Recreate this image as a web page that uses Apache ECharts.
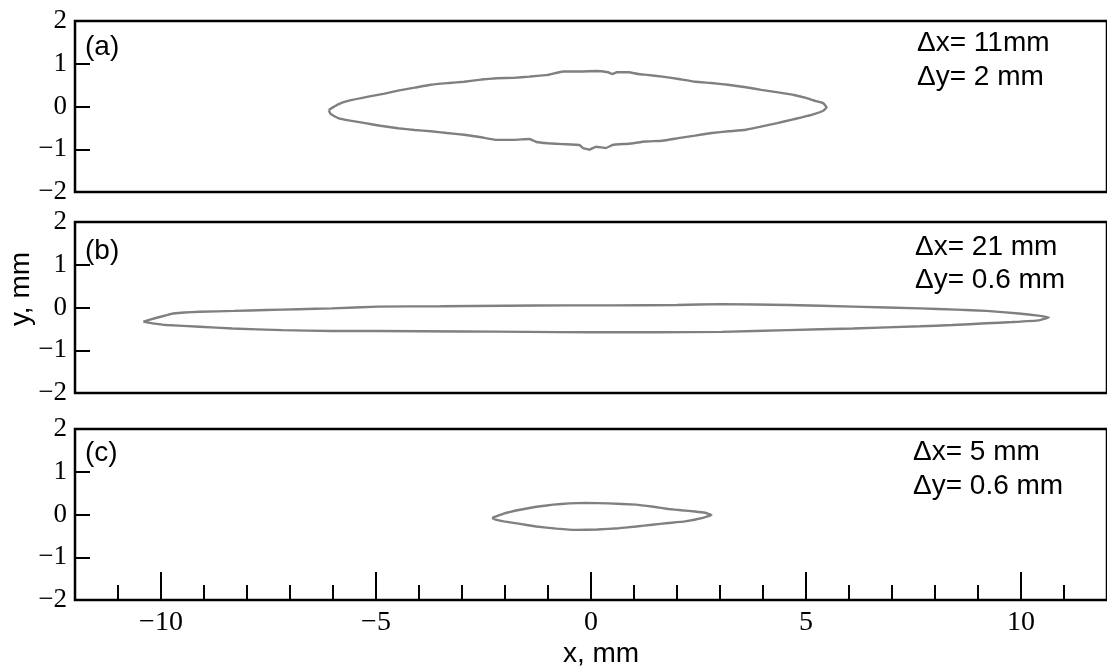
<!DOCTYPE html>
<html>
<head>
<meta charset="utf-8">
<script src="https://cdn.jsdelivr.net/npm/echarts@6/dist/echarts.min.js"></script>
<style>html,body{margin:0;padding:0;background:#fff;}#c{width:1107px;height:669px;}</style>
</head>
<body>
<div id="c"></div>
<script>
// ---- data ----
const shapeA = [[-6.10,-0.08],[-5.88,0.05],[-5.65,0.13],[-5.18,0.23],[-4.80,0.30],[-4.49,0.37],[-4.10,0.44],[-3.73,0.51],[-3.30,0.55],[-2.95,0.58],[-2.55,0.63],[-2.19,0.66],[-1.80,0.67],[-1.43,0.70],[-1.00,0.74],[-0.65,0.82],[-0.20,0.82],[0.12,0.83],[0.40,0.80],[0.50,0.76],[0.60,0.80],[0.88,0.80],[1.10,0.76],[1.30,0.74],[1.66,0.70],[2.00,0.65],[2.42,0.58],[2.80,0.55],[3.18,0.51],[3.60,0.45],[3.96,0.39],[4.35,0.33],[4.72,0.27],[5.00,0.20],[5.18,0.14],[5.40,0.08],[5.48,-0.02],[5.40,-0.10],[5.11,-0.20],[4.70,-0.30],[4.33,-0.39],[3.95,-0.47],[3.57,-0.55],[3.20,-0.58],[2.81,-0.62],[2.42,-0.68],[2.03,-0.74],[1.66,-0.80],[1.27,-0.82],[0.88,-0.87],[0.50,-0.90],[0.35,-0.97],[0.12,-0.94],[-0.04,-1.01],[-0.19,-0.97],[-0.27,-0.90],[-0.65,-0.88],[-1.00,-0.86],[-1.27,-0.83],[-1.43,-0.76],[-1.80,-0.78],[-2.19,-0.78],[-2.55,-0.72],[-2.95,-0.66],[-3.35,-0.62],[-3.73,-0.58],[-4.10,-0.55],[-4.49,-0.51],[-4.90,-0.45],[-5.25,-0.39],[-5.60,-0.33],[-5.88,-0.27],[-6.05,-0.18],[-6.10,-0.08]];
const shapeB = [[-10.41,-0.33],[-10.10,-0.24],[-9.87,-0.18],[-9.72,-0.14],[-9.10,-0.10],[-8.30,-0.08],[-7.56,-0.06],[-6.80,-0.04],[-6.03,-0.02],[-4.95,0.02],[-3.50,0.03],[-2.00,0.04],[-0.50,0.05],[0.50,0.05],[2.00,0.06],[3.04,0.08],[4.58,0.06],[6.10,0.02],[7.65,-0.02],[8.50,-0.05],[9.19,-0.08],[9.95,-0.14],[10.40,-0.19],[10.65,-0.23],[10.42,-0.30],[9.80,-0.34],[9.19,-0.37],[8.40,-0.41],[7.65,-0.44],[6.10,-0.49],[4.58,-0.53],[3.04,-0.57],[1.50,-0.58],[0.00,-0.58],[-1.50,-0.57],[-3.00,-0.56],[-4.95,-0.55],[-6.03,-0.55],[-7.18,-0.53],[-8.34,-0.49],[-9.10,-0.45],[-9.87,-0.41],[-10.20,-0.37],[-10.41,-0.33]];
const shapeC = [[-2.30,-0.08],[-2.03,0.02],[-1.65,0.11],[-1.27,0.18],[-0.88,0.23],[-0.50,0.26],[-0.12,0.27],[0.40,0.26],[1.04,0.23],[1.45,0.18],[1.80,0.13],[2.10,0.10],[2.42,0.07],[2.65,0.04],[2.80,-0.01],[2.60,-0.08],[2.19,-0.16],[1.80,-0.20],[1.42,-0.24],[1.05,-0.28],[0.65,-0.32],[0.15,-0.35],[-0.35,-0.36],[-0.80,-0.33],[-1.27,-0.28],[-1.65,-0.22],[-2.03,-0.16],[-2.22,-0.12],[-2.30,-0.08]];
const panelLabels = ['(a)', '(b)', '(c)'];
const dxTexts = ['\u0394x= 11mm', '\u0394x= 21 mm', '\u0394x= 5 mm'];
const dyTexts = ['\u0394y= 2 mm', '\u0394y= 0.6 mm', '\u0394y= 0.6 mm'];
const xMajorTicks = [-10, -5, 0, 5, 10];
const xMinorTicks = [-11, -9, -8, -7, -6, -4, -3, -2, -1, 1, 2, 3, 4, 6, 7, 8, 9, 11];
const yTicks = [-2, -1, 0, 1, 2];
const yInnerTicks = [-1, 0, 1];
const xName = 'x, mm';
const yName = 'y, mm';

// ---- layout ----
const gridTops = [21, 222, 429];
const gridH = 171;
const serif = '"Liberation Serif", "Times New Roman", serif';
const sans = '"Liberation Sans", Arial, sans-serif';
const fmt = v => String(v).replace('-', '\u2212');

const grids = gridTops.map(t => ({
  left: 75, top: t, width: 1040, height: gridH,
  show: true, borderColor: '#000', borderWidth: 2.5, backgroundColor: 'transparent'
}));

const xAxes = [0, 1, 2].map(i => ({
  type: 'value', gridIndex: i, min: -12, max: 12, position: 'bottom',
  axisLine: { show: false, onZero: false }, splitLine: { show: false },
  axisTick: i === 2 ? { show: true, inside: true, length: 28, customValues: xMajorTicks, lineStyle: { color: '#000', width: 2 } } : { show: false },
  axisLabel: i === 2 ? { show: true, customValues: xMajorTicks, formatter: fmt, fontFamily: serif, fontSize: 28, color: '#000', margin: 9 } : { show: false }
}));
xAxes.push({
  type: 'value', gridIndex: 2, min: -12, max: 12, position: 'bottom',
  axisLine: { show: false, onZero: false }, splitLine: { show: false },
  axisTick: { show: true, inside: true, length: 15, customValues: xMinorTicks, lineStyle: { color: '#000', width: 2 } },
  axisLabel: { show: false }
});

const yAxes = [0, 1, 2].map(i => ({
  type: 'value', gridIndex: i, min: -2, max: 2, interval: 1, position: 'left',
  axisLine: { show: false, onZero: false }, splitLine: { show: false },
  axisTick: { show: true, inside: true, length: 15, customValues: yInnerTicks, lineStyle: { color: '#000', width: 2 } },
  axisLabel: { show: true, customValues: yTicks, formatter: fmt, fontFamily: serif, fontSize: 27, color: '#000', margin: 8 }
}));

const shapes = [shapeA, shapeB, shapeC];
const series = shapes.map((d, i) => ({
  type: 'line', xAxisIndex: i, yAxisIndex: i, data: d,
  showSymbol: false, symbol: 'none', smooth: 0.1,
  lineStyle: { color: '#808080', width: 2.4 }, silent: true, animation: false, clip: false
}));

const noteX = [917, 915, 913];
const dxY = [43, 247, 452];
const dyY = [77, 280, 486];
const plY = [47, 251, 453];
const graphic = [];
for (let i = 0; i < 3; i++) {
  graphic.push({ type: 'text', x: 85, y: plY[i], style: { text: panelLabels[i], font: '28px ' + sans, fill: '#000', verticalAlign: 'middle', align: 'left' } });
  graphic.push({ type: 'text', x: noteX[i], y: dxY[i], style: { text: dxTexts[i], font: '28px ' + sans, fill: '#000', verticalAlign: 'middle', align: 'left' } });
  graphic.push({ type: 'text', x: noteX[i], y: dyY[i], style: { text: dyTexts[i], font: '28px ' + sans, fill: '#000', verticalAlign: 'middle', align: 'left' } });
}
graphic.push({ type: 'text', x: 601, y: 654, style: { text: xName, font: '28px ' + sans, fill: '#000', verticalAlign: 'middle', align: 'center' } });
graphic.push({ type: 'text', x: 21, y: 289, rotation: Math.PI / 2, style: { text: yName, font: '28px ' + sans, fill: '#000', verticalAlign: 'middle', align: 'center' } });

const chart = echarts.init(document.getElementById('c'), null, { renderer: 'canvas' });
chart.setOption({
  animation: false,
  backgroundColor: '#fff',
  grid: grids, xAxis: xAxes, yAxis: yAxes, series: series, graphic: graphic
});
</script>
</body>
</html>
